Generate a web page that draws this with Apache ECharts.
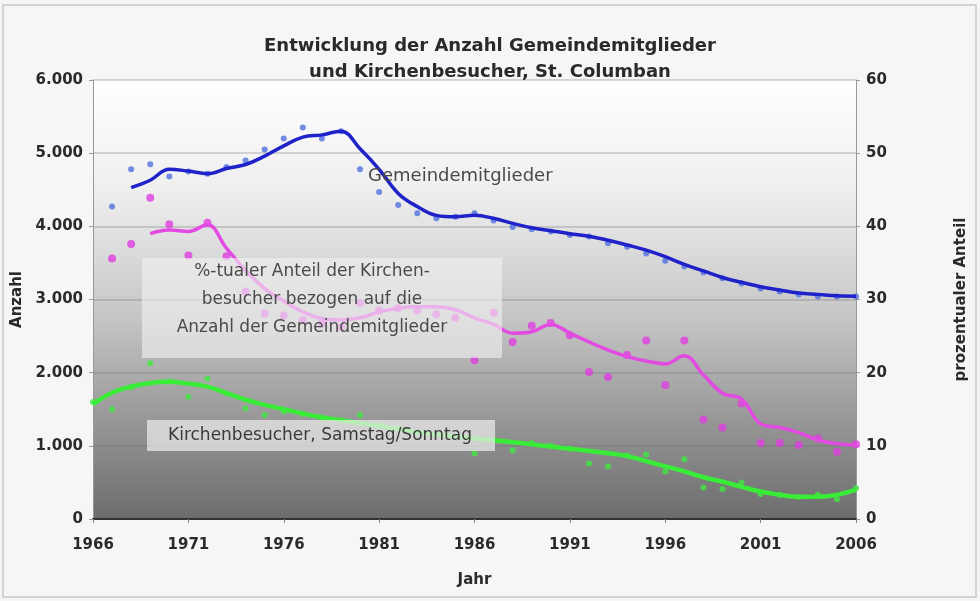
<!DOCTYPE html>
<html>
<head>
<meta charset="utf-8">
<script src="https://cdn.jsdelivr.net/npm/echarts@6/dist/echarts.min.js"></script>
<style>
  html, body { margin: 0; padding: 0; background: #ffffff; }
  #chart { width: 980px; height: 601px; }
</style>
</head>
<body>
<div id="chart"></div>
<script>
// Jahre (x-Achse)
const years = [1966, 1967, 1968, 1969, 1970, 1971, 1972, 1973, 1974, 1975,
  1976, 1977, 1978, 1979, 1980, 1981, 1982, 1983, 1984, 1985,
  1986, 1987, 1988, 1989, 1990, 1991, 1992, 1993, 1994, 1995,
  1996, 1997, 1998, 1999, 2000, 2001, 2002, 2003, 2004, 2005, 2006]

// Gemeindemitglieder - Einzelwerte (Punkte)
const mitgliederPunkte = [null, 4270, 4780, 4850, 4680, 4750, 4720, 4810, 4900, 5050,
  5200, 5350, 5200, 5300, 4780, 4470, 4290, 4180, 4110, 4130,
  4180, 4080, 3990, 3960, 3930, 3880, 3860, 3770, 3720, 3630,
  3530, 3450, 3370, 3290, 3220, 3150, 3110, 3070, 3040, 3040, 3040]
// Gemeindemitglieder - geglaettete Linie
const mitgliederLinie = [null, null, 4530, 4630, 4780, 4755, 4720, 4790, 4845, 4960,
  5100, 5220, 5250, 5300, 5060, 4780, 4450, 4270, 4150, 4130,
  4150, 4110, 4040, 3980, 3940, 3900, 3865, 3810, 3745, 3675,
  3585, 3480, 3390, 3300, 3235, 3175, 3130, 3090, 3070, 3050, 3045]

// Kirchenbesucher Samstag/Sonntag - Punkte
const besucherPunkte = [1600, 1500, 1800, 2130, 1880, 1670, 1920, 1720, 1510, 1420,
  1470, 1440, 1380, 1350, 1420, 1280, 1240, 1180, 1150, 1130,
  900, 1080, 940, 1040, 1000, 960, 760, 720, 870, 880,
  650, 815, 430, 410, 500, 340, 330, 300, 330, 270, 420]
// Kirchenbesucher - Linie
const besucherLinie = [1570, 1725, 1810, 1860, 1876, 1850, 1810, 1720, 1630, 1560,
  1500, 1440, 1390, 1350, 1310, 1270, 1230, 1190, 1160, 1130,
  1100, 1075, 1050, 1020, 990, 960, 930, 900, 860, 790,
  720, 650, 570, 510, 440, 375, 330, 305, 305, 330, 400]

// prozentualer Anteil (rechte Achse) - Punkte
const anteilPunkte = [null, 35.6, 37.6, 43.9, 40.3, 36.0, 40.5, 35.9, 31.1, 28.1,
  27.8, 27.2, 26.8, 26.2, 29.5, 28.5, 28.8, 28.5, 28.0, 27.5,
  21.7, 28.2, 24.2, 26.4, 26.8, 25.1, 20.1, 19.4, 22.4, 24.4,
  18.3, 24.4, 13.6, 12.5, 15.8, 10.4, 10.4, 10.1, 11.0, 9.2, 10.2]
// prozentualer Anteil - Linie
const anteilLinie = [null, null, null, 39.0, 39.5, 39.3, 40.2, 37.0, 34.0, 31.5,
  29.8, 28.3, 27.4, 27.2, 27.5, 28.3, 28.8, 29.0, 29.0, 28.6,
  27.5, 26.6, 25.4, 25.6, 26.6, 25.4, 24.2, 23.1, 22.2, 21.6,
  21.2, 22.3, 19.7, 17.2, 16.4, 13.0, 12.5, 11.8, 10.8, 10.3, 10.1]

// Zeitreihe mit den Jahren zusammenfuehren, fehlende Werte weglassen
function pairs(values) {
  return years.map((y, i) => [y, values[i]]).filter(p => p[1] !== null)
}

const FONT = 'DejaVu Sans'
const chart = echarts.init(document.getElementById('chart'))

const option = {
  backgroundColor: '#f6f6f6',
  animation: false,
  title: {
    text: 'Entwicklung der Anzahl Gemeindemitglieder\nund Kirchenbesucher, St. Columban',
    left: 'center',
    top: 28,
    textStyle: {
      fontFamily: FONT,
      fontWeight: 'bold',
      fontSize: 18,
      lineHeight: 26,
      color: '#2a2a2a'
    }
  },
  grid: {
    left: 93,
    right: 124,
    top: 80,
    bottom: 82,
    show: true,
    borderWidth: 0,
    backgroundColor: {
      type: 'linear', x: 0, y: 0, x2: 0, y2: 1,
      colorStops: [
        { offset: 0, color: '#ffffff' },
        { offset: 0.25, color: '#efefef' },
        { offset: 0.55, color: '#c4c4c4' },
        { offset: 0.75, color: '#9c9c9c' },
        { offset: 1, color: '#6c6c6c' }
      ]
    }
  },
  xAxis: {
    type: 'value',
    min: 1966,
    max: 2006,
    interval: 5,
    name: 'Jahr',
    nameLocation: 'middle',
    nameGap: 54,
    nameTextStyle: { fontFamily: FONT, fontWeight: 'bold', fontSize: 15, color: '#2a2a2a' },
    axisLine: { lineStyle: { color: '#333', width: 2 } },
    axisTick: { show: true, length: 4, lineStyle: { color: '#888' } },
    splitLine: { show: false },
    axisLabel: {
      fontFamily: FONT, fontWeight: 'bold', fontSize: 15, color: '#2a2a2a', margin: 19,
      formatter: v => String(v)
    }
  },
  yAxis: [
    {
      type: 'value',
      min: 0,
      max: 6000,
      interval: 1000,
      name: 'Anzahl',
      nameLocation: 'middle',
      nameGap: 62,
      nameTextStyle: { fontFamily: FONT, fontWeight: 'bold', fontSize: 15, color: '#2a2a2a' },
      axisLine: { show: true, lineStyle: { color: '#999' } },
      axisTick: { show: true, length: 4, lineStyle: { color: '#999' } },
      splitLine: { lineStyle: { color: 'rgba(110,110,110,0.35)', width: 1.5 } },
      axisLabel: {
        fontFamily: FONT, fontWeight: 'bold', fontSize: 15, color: '#2a2a2a', margin: 10,
        formatter: v => v === 0 ? '0' : (v / 1000) + '.000'
      }
    },
    {
      type: 'value',
      min: 0,
      max: 60,
      interval: 10,
      name: 'prozentualer Anteil',
      nameLocation: 'middle',
      nameGap: 98,
      nameRotate: 90,
      nameTextStyle: { fontFamily: FONT, fontWeight: 'bold', fontSize: 15, color: '#2a2a2a' },
      axisLine: { show: true, lineStyle: { color: '#999' } },
      axisTick: { show: true, length: 4, lineStyle: { color: '#999' } },
      splitLine: { show: false },
      axisLabel: { fontFamily: FONT, fontWeight: 'bold', fontSize: 15, color: '#2a2a2a', margin: 10 }
    }
  ],
  graphic: [
    {
      type: 'rect',
      shape: { x: 3, y: 5, width: 973, height: 592 },
      style: { fill: 'none', stroke: '#c8c8c8', lineWidth: 1.5 },
      silent: true
    },
    {
      type: 'rect',
      shape: { x: 142, y: 258, width: 360, height: 100 },
      style: { fill: 'rgba(240,240,240,0.62)' },
      z: 10, silent: true
    },
    {
      type: 'text',
      x: 312, y: 300,
      style: {
        text: '%-tualer Anteil der Kirchen-\nbesucher bezogen auf die\nAnzahl der Gemeindemitglieder',
        font: '17px "DejaVu Sans"',
        lineHeight: 28,
        fill: '#4a4a4a',
        align: 'center',
        verticalAlign: 'middle'
      },
      z: 11, silent: true
    },
    {
      type: 'rect',
      shape: { x: 147, y: 420, width: 348, height: 31 },
      style: { fill: 'rgba(235,235,235,0.72)' },
      z: 10, silent: true
    },
    {
      type: 'text',
      x: 320, y: 436,
      style: {
        text: 'Kirchenbesucher, Samstag/Sonntag',
        font: '17px "DejaVu Sans"',
        fill: '#3a3a3a',
        align: 'center',
        verticalAlign: 'middle'
      },
      z: 11, silent: true
    },
    {
      type: 'text',
      x: 368, y: 176,
      style: {
        text: 'Gemeindemitglieder',
        font: '18px "DejaVu Sans"',
        fill: '#4a4a4a',
        align: 'left',
        verticalAlign: 'middle'
      },
      z: 11, silent: true
    }
  ],
  series: [
    {
      name: 'Gemeindemitglieder',
      type: 'scatter',
      data: pairs(mitgliederPunkte),
      symbolSize: 6,
      itemStyle: { color: '#5070e0' },
      z: 3
    },
    {
      name: 'Gemeindemitglieder Trend',
      type: 'line',
      data: pairs(mitgliederLinie),
      smooth: 0.4,
      showSymbol: false,
      lineStyle: { color: '#1f22c8', width: 3.5 },
      z: 4
    },
    {
      name: 'Anteil',
      type: 'scatter',
      yAxisIndex: 1,
      data: pairs(anteilPunkte),
      symbolSize: 8,
      itemStyle: { color: '#e03ee0' },
      z: 3
    },
    {
      name: 'Anteil Trend',
      type: 'line',
      yAxisIndex: 1,
      data: pairs(anteilLinie),
      smooth: 0.4,
      showSymbol: false,
      lineStyle: { color: '#e24ae2', width: 3.5 },
      z: 4
    },
    {
      name: 'Kirchenbesucher',
      type: 'scatter',
      data: pairs(besucherPunkte),
      symbolSize: 6,
      itemStyle: { color: '#3ee83e' },
      z: 3
    },
    {
      name: 'Kirchenbesucher Trend',
      type: 'line',
      data: pairs(besucherLinie),
      smooth: 0.4,
      showSymbol: false,
      lineStyle: { color: '#38ec38', width: 4.5 },
      z: 4
    }
  ]
}

chart.setOption(option)
</script>
</body>
</html>
